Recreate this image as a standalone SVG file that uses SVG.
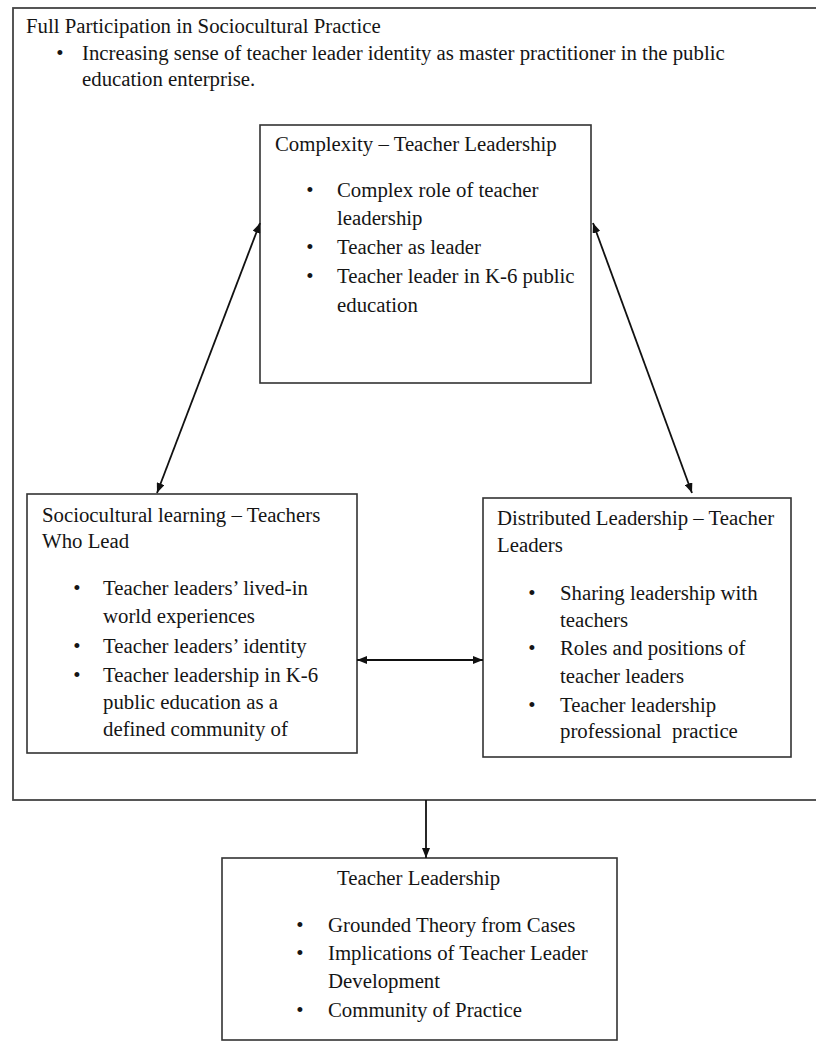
<svg xmlns="http://www.w3.org/2000/svg" width="816" height="1046" viewBox="0 0 816 1046">
<style>
text{font-family:"Liberation Serif","Times New Roman",serif;font-size:20.8px;fill:#151515}
.b{text-anchor:middle}
.box{fill:#fff;stroke:#333;stroke-width:1.6}
.outer{fill:#fff;stroke:#444;stroke-width:1.8}
.con{stroke:#111;stroke-width:1.8;fill:none}
</style>
<defs>
<marker id="ah" viewBox="0 0 10 8" refX="10" refY="4" markerWidth="10" markerHeight="8" markerUnits="userSpaceOnUse" orient="auto-start-reverse">
<path d="M0,0 L10,4 L0,8 z" fill="#111"/>
</marker>
</defs>
<rect width="816" height="1046" fill="#fff"/>
<g id="outer">
<rect class="outer" x="13" y="8" width="820" height="792"/>
<text x="26" y="33">Full Participation in Sociocultural Practice</text>
<text class="b" x="60" y="60">•</text>
<text x="82" y="60">Increasing sense of teacher leader identity as master practitioner in the public</text>
<text x="82" y="86">education enterprise.</text>
</g>
<g id="complexity">
<rect class="box" x="260" y="125" width="331" height="258"/>
<text x="275" y="151">Complexity – Teacher Leadership</text>
<text class="b" x="310" y="197">•</text>
<text x="337" y="197">Complex role of teacher</text>
<text x="337" y="225">leadership</text>
<text class="b" x="310" y="254">•</text>
<text x="337" y="254">Teacher as leader</text>
<text class="b" x="310" y="283">•</text>
<text x="337" y="283">Teacher leader in K-6 public</text>
<text x="337" y="312">education</text>
</g>
<g id="sociocultural">
<rect class="box" x="27" y="494" width="330" height="259"/>
<text x="42" y="522">Sociocultural learning – Teachers</text>
<text x="42" y="548">Who Lead</text>
<text class="b" x="77" y="595">•</text>
<text x="103" y="595">Teacher leaders’ lived-in</text>
<text x="103" y="623">world experiences</text>
<text class="b" x="77" y="653">•</text>
<text x="103" y="653">Teacher leaders’ identity</text>
<text class="b" x="77" y="682">•</text>
<text x="103" y="682">Teacher leadership in K-6</text>
<text x="103" y="709">public education as a</text>
<text x="103" y="736">defined community of</text>
</g>
<g id="distributed">
<rect class="box" x="483" y="498" width="308" height="259"/>
<text x="497" y="525">Distributed Leadership – Teacher</text>
<text x="497" y="552">Leaders</text>
<text class="b" x="532" y="600">•</text>
<text x="560" y="600">Sharing leadership with</text>
<text x="560" y="627">teachers</text>
<text class="b" x="532" y="655">•</text>
<text x="560" y="655">Roles and positions of</text>
<text x="560" y="683">teacher leaders</text>
<text class="b" x="532" y="712">•</text>
<text x="560" y="712">Teacher leadership</text>
<text x="560" y="738" xml:space="preserve">professional  practice</text>
</g>
<g id="teacher-leadership">
<rect class="box" x="222" y="858" width="395" height="182"/>
<text x="337" y="885">Teacher Leadership</text>
<text class="b" x="300" y="932">•</text>
<text x="328" y="932">Grounded Theory from Cases</text>
<text class="b" x="300" y="960">•</text>
<text x="328" y="960">Implications of Teacher Leader</text>
<text x="328" y="988">Development</text>
<text class="b" x="300" y="1017">•</text>
<text x="328" y="1017">Community of Practice</text>
</g>
<g id="connectors">
<line class="con" x1="157" y1="493" x2="260" y2="223" marker-start="url(#ah)" marker-end="url(#ah)"/>
<line class="con" x1="593" y1="223" x2="692" y2="493" marker-start="url(#ah)" marker-end="url(#ah)"/>
<line class="con" x1="357" y1="660" x2="483" y2="660" marker-start="url(#ah)" marker-end="url(#ah)"/>
<line class="con" x1="426" y1="800" x2="426" y2="858" marker-end="url(#ah)"/>
</g>
</svg>
